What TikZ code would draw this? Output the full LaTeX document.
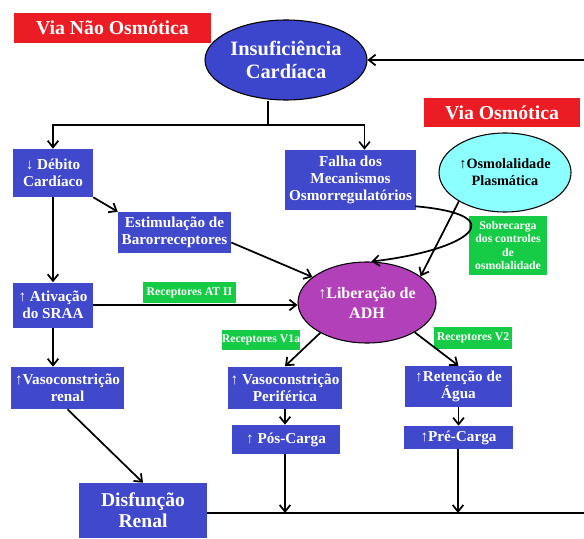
\documentclass[tikz,border=0pt]{standalone}
\usepackage{fontspec}
\setmainfont{Liberation Serif}
\usetikzlibrary{arrows.meta,calc,shapes.geometric}
\definecolor{boxblue}{RGB}{64,72,204}
\definecolor{ellblue}{RGB}{60,70,205}
\definecolor{adhpurple}{RGB}{178,64,184}
\definecolor{osmcyan}{RGB}{140,255,255}
\definecolor{lblgreen}{RGB}{22,204,70}
\definecolor{lblred}{RGB}{236,28,36}
\tikzset{
  conn/.style={line width=1.3pt, draw=black},
  arr/.style={conn, -{Straight Barb[length=5pt,width=8pt,line width=1.3pt]}},
  sz/.style 2 args={minimum width=#1*0.75pt, minimum height=#2*0.75pt},
  bbox/.style={rectangle, fill=boxblue, text=white, font=\bfseries\fontsize{11.4}{12.75}\selectfont, align=center, inner sep=0pt},
  gbox/.style={rectangle, fill=lblgreen, text=white, font=\bfseries\fontsize{8.8}{10}\selectfont, align=center, inner sep=0pt},
  rbox/.style={rectangle, fill=lblred, text=white, font=\bfseries\fontsize{14.8}{16}\selectfont, align=center, inner sep=0pt},
  ell/.style={ellipse, draw=black, line width=0.8pt, align=center, inner sep=0pt},
}
\begin{document}
\begin{tikzpicture}[x=0.75pt,y=-0.75pt]
\useasboundingbox (0,0) rectangle (584,538);
% labels
\node[rbox, sz={197}{30}] (vno) at (112.5,28) {Via Não Osmótica};
\node[rbox, sz={156}{29}] (vo) at (502,112.5) {Via Osmótica};
% nodes
\node[ell, fill=ellblue, text=white, font=\bfseries\fontsize{15.3}{17}\selectfont, sz={162}{80}] (ic) at (286,60) {Insuficiência\\Cardíaca};
\node[bbox, sz={80}{48}] (deb) at (53,173) {↓ Débito\\Cardíaco};
\node[bbox, sz={131}{60}] (falha) at (350.5,180) {Falha dos\\Mecanismos\\Osmorregulatórios};
\node[ell, fill=osmcyan, text=black, font=\bfseries\fontsize{10.7}{12.75}\selectfont, sz={132}{79}] (osm) at (505,172.5) {↑Osmolalidade\\Plasmática};
\node[bbox, sz={113}{41}] (estim) at (174.5,232.5) {Estimulação de\\Barorreceptores};
\node[gbox, sz={78}{59}] (sobre) at (508,245.5) {Sobrecarga\\dos controles\\de\\osmolalidade};
\node[ell, fill=adhpurple, text=white, font=\bfseries\fontsize{12}{15}\selectfont, sz={138}{81}] (adh) at (367,302.5) {↑Liberação de\\ADH};
\node[bbox, sz={80}{45}] (sraa) at (53,305) {↑ Ativação\\do SRAA};
\node[gbox, sz={93}{21}] (at2) at (189.5,292.5) {Receptores AT II};
\node[gbox, sz={78}{20}] (v1a) at (261,340) {Receptores V1a};
\node[gbox, sz={78}{22}] (v2) at (473,338) {Receptores V2};
\node[bbox, sz={113}{42}] (vrenal) at (67.5,388) {↑Vasoconstrição\\renal};
\node[bbox, sz={114}{42}] (vperif) at (285,387.5) {↑ Vasoconstrição\\Periférica};
\node[bbox, sz={107}{41}] (agua) at (458.5,386.5) {↑Retenção de\\Água};
\node[bbox, sz={108}{29}] (pos) at (286,439.5) {↑ Pós-Carga};
\node[bbox, sz={109}{23}] (pre) at (458.5,437.5) {↑Pré-Carga};
\node[bbox, font=\bfseries\fontsize{14.7}{15.75}\selectfont, sz={128}{55}] (disf) at (143,510.5) {Disfunção\\Renal};
% coordinates
\coordinate (j) at (268,125);
\coordinate (re) at (584,60);
\coordinate (b1) at (285,513);
\coordinate (b2) at (458,513);
\coordinate (br) at (584,513);
% connectors
\draw[conn] ($(ic.south)+(-18,0)$) -- (j);
\draw[arr] (j) -| (deb.north);
\draw[arr] (j) -| ($(falha.north)+(14,0)$);
\draw[arr] (re) -- (ic.east);
\draw[arr] (deb.south east) -- (estim.north west);
\draw[arr] (deb.south) -- (sraa.north);
\draw[arr] ($(estim.east)+(0,10)$) -- (adh.155);
\draw[arr] ($(falha.south east)+(-1,-4)$) .. controls (515,215) and (470,250) .. (adh.84);
\draw[arr] (osm.212) -- (adh.26);
\draw[arr] (sraa.east) -- (sraa.east -| adh.west);
\draw[arr] (sraa.south) -- (sraa.south |- vrenal.north);
\draw[arr] (vrenal.south) -- (disf.north);
\draw[arr] (adh.213) -- (vperif.north);
\draw[arr] (adh.-32) -- (agua.north);
\draw[arr] (vperif.south) -- (vperif.south |- pos.north);
\draw[arr] (pos.south -| b1) -- (b1);
\draw[arr] (agua.south) -- (agua.south |- pre.north);
\draw[arr] (pre.south -| b2) -- (b2);
\draw[conn] (b1 -| disf.east) -- (br);
\end{tikzpicture}
\end{document}
